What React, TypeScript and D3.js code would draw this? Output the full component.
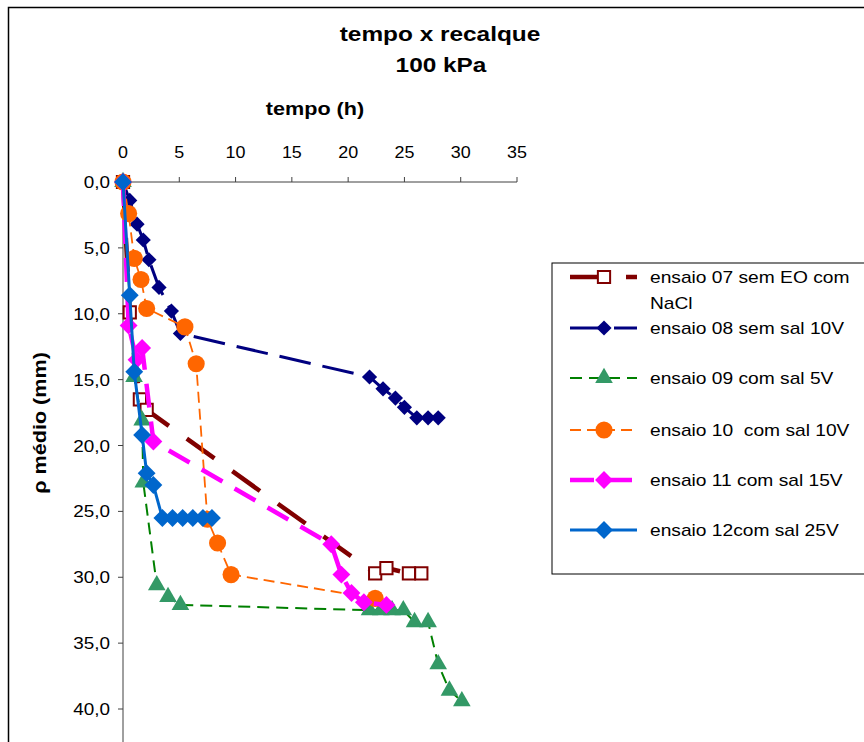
import React from "react";
import * as d3 from "d3";

// ---------- data ----------
const xTicks = [0, 5, 10, 15, 20, 25, 30, 35];
const yTicks = [0, 5, 10, 15, 20, 25, 30, 35, 40];

const s07Time = [0, 0.6, 1.5, 2.1, 22.4, 23.4, 25.4, 26.5];
const s07Settle = [0, 9.9, 16.5, 17.3, 29.7, 29.3, 29.7, 29.7];

const s08Time = [0, 0.6, 1.25, 1.8, 2.3, 3.2, 4.3, 5.1, 21.9, 23.1, 24.2, 25.0, 26.1, 27.1, 28.0];
const s08Settle = [0, 1.4, 3.2, 4.4, 5.9, 8.0, 9.8, 11.5, 14.8, 15.7, 16.4, 17.1, 17.9, 17.9, 17.9];

const s09Time = [0, 0.98, 1.7, 1.8, 3.0, 4.0, 5.1, 21.9, 22.9, 23.9, 24.9, 25.9, 27.1, 28.0, 29.0, 30.1];
const s09Settle = [0, 14.8, 18.1, 22.8, 30.6, 31.5, 32.1, 32.5, 32.5, 32.5, 32.5, 33.4, 33.4, 36.6, 38.6, 39.4];

const s10Time = [0, 0.5, 1.0, 1.6, 2.1, 5.5, 6.5, 7.5, 8.4, 9.6, 22.4];
const s10Settle = [0, 2.4, 5.8, 7.4, 9.6, 11.0, 13.8, 25.6, 27.4, 29.8, 31.6];

const s11Time = [0, 0.5, 1.2, 1.7, 2.7, 18.5, 19.4, 20.3, 21.4, 23.4];
const s11Settle = [0, 10.9, 13.5, 12.6, 19.7, 27.5, 29.8, 31.2, 31.9, 32.1];

const s12Time = [0, 0.6, 1.0, 1.7, 2.1, 2.7, 3.5, 4.4, 5.3, 6.2, 7.1, 7.9];
const s12Settle = [0, 8.6, 14.4, 19.2, 22.1, 23.0, 25.5, 25.5, 25.5, 25.5, 25.5, 25.5];

const legendLabels = [
  ["ensaio 07 sem EO com", "NaCl"],
  ["ensaio 08 sem sal 10V"],
  ["ensaio 09 com sal 5V"],
  ["ensaio 10  com sal 10V"],
  ["ensaio 11 com sal 15V"],
  ["ensaio 12com sal 25V"],
];

const FONT = "Arial, 'Liberation Sans', sans-serif";

type Marker = "square" | "diamond" | "triangle" | "circle";

const series = [
  { t: s07Time, d: s07Settle, color: "#800000", width: 4.5, dash: "34,22", marker: "square" as Marker, mfill: "#ffffff", mstroke: "#800000", msize: 150 },
  { t: s08Time, d: s08Settle, color: "#000080", width: 3, dash: "32,12", marker: "diamond" as Marker, mfill: "#000080", mstroke: "none", msize: 115 },
  { t: s09Time, d: s09Settle, color: "#008000", width: 2, dash: "12,7", marker: "triangle" as Marker, mfill: "#339966", mstroke: "none", msize: 135 },
  { t: s10Time, d: s10Settle, color: "#FF6600", width: 1.8, dash: "11,6", marker: "circle" as Marker, mfill: "#FF6600", mstroke: "none", msize: 230 },
  { t: s11Time, d: s11Settle, color: "#FF00FF", width: 4.5, dash: "24,14", marker: "diamond" as Marker, mfill: "#FF00FF", mstroke: "none", msize: 160 },
  { t: s12Time, d: s12Settle, color: "#0066CC", width: 3, dash: "none", marker: "diamond" as Marker, mfill: "#0066CC", mstroke: "none", msize: 160 },
];

const legendRows = [277, 328, 378, 430, 480, 530];

function markerPath(m: Marker, size: number) {
  const type =
    m === "square" || m === "diamond"
      ? d3.symbolSquare
      : m === "triangle"
      ? d3.symbolTriangle
      : d3.symbolCircle;
  return d3.symbol().type(type).size(size)() as string;
}

function Mark({ s, cx, cy }: { s: (typeof series)[number]; cx: number; cy: number }) {
  const rot = s.marker === "diamond" ? " rotate(45)" : "";
  return (
    <path
      d={markerPath(s.marker, s.msize)}
      transform={`translate(${cx},${cy})${rot}`}
      fill={s.mfill}
      stroke={s.mstroke}
      strokeWidth={s.mstroke === "none" ? 0 : 2}
    />
  );
}

function T({
  x,
  y,
  size,
  bold,
  anchor,
  sx,
  rotate,
  children,
}: {
  x: number;
  y: number;
  size: number;
  bold?: boolean;
  anchor?: "start" | "middle" | "end";
  sx?: number;
  rotate?: number;
  children: React.ReactNode;
}) {
  return (
    <text
      transform={`translate(${x},${y})${rotate ? ` rotate(${rotate})` : ""} scale(${sx ?? 1.2},1)`}
      fontFamily={FONT}
      fontSize={size}
      fontWeight={bold ? "bold" : "normal"}
      textAnchor={anchor ?? "start"}
      fill="#000"
      style={{ whiteSpace: "pre" }}
    >
      {children}
    </text>
  );
}

export default function App() {
  const x = d3.scaleLinear().domain([0, 35]).range([123, 517]);
  const y = d3.scaleLinear().domain([0, 40]).range([182, 709]);

  const lineGen = d3
    .line<[number, number]>()
    .x((p) => x(p[0]))
    .y((p) => y(p[1]));

  return (
    <svg
      width={864}
      height={742}
      style={{ position: "absolute", left: 0, top: 0, background: "#fff" }}
    >
      <rect x={0} y={0} width={864} height={742} fill="#fff" />
      <rect x={8.5} y={7.5} width={880} height={760} fill="none" stroke="#000" strokeWidth={1.5} />

      {/* titles */}
      <T x={440} y={41} size={20} bold anchor="middle" sx={1.22}>tempo x recalque</T>
      <T x={441} y={72} size={20} bold anchor="middle" sx={1.22}>100 kPa</T>
      <T x={315} y={115} size={18} bold anchor="middle">tempo (h)</T>
      <T x={46} y={423} size={18} bold anchor="middle" rotate={-90}>ρ médio (mm)</T>

      {/* x axis (top) */}
      <line x1={x(0)} x2={x(35)} y1={y(0)} y2={y(0)} stroke="#404040" strokeWidth={1} />
      {xTicks.map((v) => (
        <g key={"xt" + v}>
          <line x1={x(v)} x2={x(v)} y1={y(0)} y2={y(0) - 5} stroke="#404040" strokeWidth={1} />
          <T x={x(v)} y={158} size={16} anchor="middle" sx={1.12}>{String(v)}</T>
        </g>
      ))}

      {/* y axis (left) */}
      <line x1={x(0)} x2={x(0)} y1={y(0)} y2={y(45)} stroke="#404040" strokeWidth={1} />
      {yTicks.map((v) => (
        <g key={"yt" + v}>
          <line x1={x(0) - 5} x2={x(0)} y1={y(v)} y2={y(v)} stroke="#404040" strokeWidth={1} />
          <T x={110} y={y(v) + 6} size={16} anchor="end" sx={1.18}>{v.toFixed(1).replace(".", ",")}</T>
        </g>
      ))}

      {/* series */}
      {series.map((s, i) => {
        const pts = s.t.map((tv, k) => [tv, s.d[k]] as [number, number]);
        return (
          <g key={"s" + i}>
            <path
              d={lineGen(pts) as string}
              fill="none"
              stroke={s.color}
              strokeWidth={s.width}
              strokeDasharray={s.dash}
              strokeLinejoin="round"
            />
            {pts.map((p, k) => (
              <Mark key={k} s={s} cx={x(p[0])} cy={y(p[1])} />
            ))}
          </g>
        );
      })}

      {/* legend */}
      <rect x={552} y={263} width={340} height={311} fill="#fff" stroke="#000" strokeWidth={1} />
      {series.map((s, i) => {
        const cy = legendRows[i];
        return (
          <g key={"lg" + i}>
            <line
              x1={570}
              x2={637}
              y1={cy}
              y2={cy}
              stroke={s.color}
              strokeWidth={s.width}
              strokeDasharray={s.dash}
            />
            <Mark s={s} cx={604} cy={cy} />
            {legendLabels[i].map((ln, j) => (
              <T key={j} x={650} y={cy + 6 + j * 26} size={16} sx={1.2}>{ln}</T>
            ))}
          </g>
        );
      })}
    </svg>
  );
}
